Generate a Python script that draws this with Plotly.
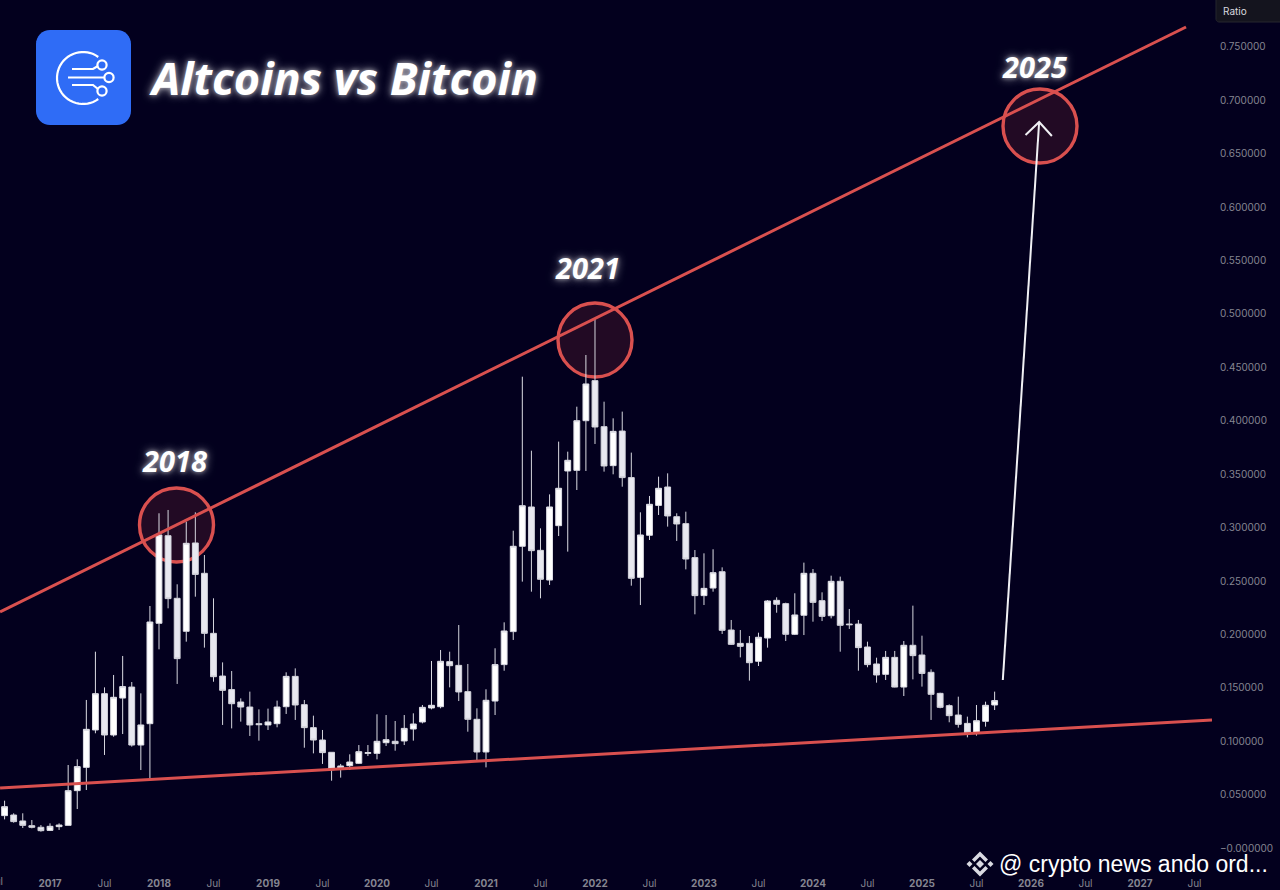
import numpy as np
import plotly.graph_objects as go

# monthly candles, month 0 = Jan 2017
months = list(range(-5, 105))
opens = [
    .0303, .0309, .0253, .0209, .0194,
    .0165, .0200, .0212, .0537, .0755, .1105, .1445, .1058, .1404, .1507, .0964, .1164,
    .2104, .2924, .2338, .2029, .2856, .2572, .2010, .1610, .1483, .1367, .1320, .1164,
    .1152, .1164, .1323, .1607, .1342, .1127, .1011, .0896, .0768, .0771, .0793, .0886,
    .0886, .0986, .0999, .1002, .1114, .1180, .1311, .1323, .1745, .1710, .1464, .1205,
    .0899, .1376, .1717, .2026, .2825, .3193, .2787, .2509, .3018, .3530, .3536, .4001,
    .4376, .3945, .3580, .3904, .3468, .2534, .2928, .3208, .3380, .3102, .3037, .2719,
    .2363, .2434, .2587, .2041, .1916, .1916, .1748, .1966, .2319, .2288, .2001, .2179,
    .2572, .2316, .2175, .2497, .2097, .2097, .1882, .1723, .1626, .1785, .1507, .1898,
    .1807, .1645, .1448, .1333, .1245, .1167, .1074, .1186, .1339,
]
highs = [
    .0443, .0325, .0325, .0262, .0215,
    .0231, .0231, .0777, .0830, .1386, .1838, .1504, .1620, .1798, .1554, .1448, .2266,
    .3134, .3165, .2469, .3056, .3143, .2743, .2338, .1738, .1657, .1401, .1464, .1298,
    .1305, .1380, .1645, .1682, .1386, .1239, .1105, .0896, .0787, .0877, .0964, .0964,
    .1252, .1245, .1189, .1245, .1261, .1339, .1751, .1854, .1838, .2088, .1723, .1308,
    .1486, .1870, .2113, .2971, .4413, .3720, .2993, .3311, .3805, .3711, .4132, .4616,
    .4959, .4179, .4023, .4086, .3702, .3143, .3296, .3477, .3508, .3134, .3149, .2790,
    .2759, .2797, .2628, .2135, .2041, .1985, .2016, .2322, .2347, .2297, .2385, .2672,
    .2612, .2394, .2550, .2541, .2238, .2135, .1932, .1782, .1845, .1845, .1938, .2269,
    .1988, .1673, .1454, .1345, .1417, .1230, .1339, .1370, .1464,
]
lows = [
    .0268, .0237, .0187, .0184, .0153,
    .0159, .0169, .0212, .0365, .0543, .1074, .0871, .1042, .1067, .0949, .0730, .0652,
    .1860, .2244, .1536, .1932, .2353, .1876, .1557, .1152, .1120, .1183, .1049, .1005,
    .1105, .1130, .1255, .1199, .0939, .0886, .0787, .0630, .0659, .0730, .0787, .0861,
    .0830, .0955, .0911, .0964, .1005, .1167, .1298, .1308, .1504, .1376, .1089, .0824,
    .0755, .1245, .1660, .1948, .2494, .2400, .2338, .2463, .2921, .2775, .3352, .3530,
    .3783, .3524, .3499, .3383, .2456, .2275, .2884, .3118, .3009, .2875, .2609, .2188,
    .2275, .2400, .2004, .1901, .1785, .1567, .1704, .1876, .2203, .1938, .1994, .1994,
    .2119, .2125, .2150, .1838, .2051, .1660, .1692, .1548, .1573, .1504, .1423, .1579,
    .1511, .1199, .1308, .1177, .1127, .1036, .1052, .1136, .1292,
]
closes = [
    .0387, .0247, .0212, .0194, .0162,
    .0203, .0215, .0537, .0762, .1111, .1445, .1058, .1411, .1511, .0964, .1152, .2116,
    .2931, .2335, .1773, .2853, .2562, .2010, .1604, .1476, .1351, .1320, .1152, .1155,
    .1180, .1320, .1607, .1339, .1127, .1011, .0893, .0733, .0737, .0805, .0902, .0893,
    .0999, .1014, .0977, .1120, .1161, .1317, .1336, .1748, .1707, .1461, .1205, .0899,
    .1383, .1717, .2032, .2825, .3205, .2784, .2516, .3193, .3368, .3630, .4001, .4345,
    .3942, .3577, .3901, .3468, .2525, .2931, .3218, .3368, .3109, .3034, .2706, .2363,
    .2431, .2578, .2038, .1907, .1888, .1735, .1973, .2313, .2282, .2001, .2182, .2572,
    .2300, .2169, .2497, .2085, .2091, .1876, .1717, .1620, .1785, .1507, .1898, .1801,
    .1635, .1439, .1317, .1239, .1158, .1080, .1192, .1336, .1380,
]

# trend lines and the arrow
upper_x = [-5.5, 125.07]
upper_y = [.2210, .7687]
lower_x = [-5.5, 127.93]
lower_y = [.0562, .1199]
arrow_x = [104.9, 108.9]
arrow_y = [.1573, .6798]
head_x = [107.4, 108.9, 110.3]
head_y = [.6676, .6798, .6667]

year_labels = ["2017", "2018", "2019", "2020", "2021", "2022", "2023", "2024", "2025", "2026", "2027"]
x_tickvals = list(range(0, 127, 6))
x_ticktext = []
for i, v in enumerate(x_tickvals):
    x_ticktext.append(f"<b>{year_labels[i // 2]}</b>" if i % 2 == 0 else "Jul")

y_tickvals = [round(0.05 * i, 2) for i in range(16)]
y_ticktext = ["−0.000000"] + [f"{v:.6f}" for v in y_tickvals[1:]]

BG = "#03001e"
RED = "#d9504f"
GRAY = "#858591"
FONT = "Open Sans"
PLOT_W = 1212
PLOT_H = 870


def px(x):
    return x / PLOT_W


def py(y):
    return 1 - y / PLOT_H


def poly(points, close=True):
    s = "M " + " L ".join(f"{px(x):.5f},{py(y):.5f}" for x, y in points)
    return s + (" Z" if close else "")


def circle(cx, cy, r, **kw):
    return dict(type="circle", xref="paper", yref="paper",
                x0=px(cx - r), x1=px(cx + r), y0=py(cy + r), y1=py(cy - r), **kw)


def rounded(x0, y0, x1, y1, r):
    pts = []
    for cx, cy, a0 in [(x1 - r, y0 + r, -90), (x1 - r, y1 - r, 0), (x0 + r, y1 - r, 90), (x0 + r, y0 + r, 180)]:
        for a in np.radians(np.linspace(a0, a0 + 90, 9)):
            pts.append((cx + r * np.cos(a), cy + r * np.sin(a)))
    return poly(pts)


fig = go.Figure()
fig.add_trace(go.Candlestick(
    x=months, open=opens, high=highs, low=lows, close=closes,
    whiskerwidth=0,
    increasing=dict(fillcolor="#ffffff", line=dict(color="#dcdce4", width=1)),
    decreasing=dict(fillcolor="#e8e8f0", line=dict(color="#d4d4dc", width=1)),
))
fig.add_trace(go.Scatter(x=upper_x, y=upper_y, mode="lines", line=dict(color=RED, width=3)))
fig.add_trace(go.Scatter(x=lower_x, y=lower_y, mode="lines", line=dict(color=RED, width=3)))
fig.add_trace(go.Scatter(x=arrow_x, y=arrow_y, mode="lines", line=dict(color="#f0f0f4", width=2)))
fig.add_trace(go.Scatter(x=head_x, y=head_y, mode="lines", line=dict(color="#f0f0f4", width=2)))

shapes = []
# highlighted tops
for cx, cy in [(176.5, 525), (595, 340), (1040, 126)]:
    shapes.append(circle(cx, cy, 37, layer="below", fillcolor="rgba(225,70,80,0.14)", line=dict(color=RED, width=3.4)))

# logo
shapes.append(dict(type="path", xref="paper", yref="paper", path=rounded(36, 30, 131, 125, 14),
                   fillcolor="#2f6cf6", line=dict(width=0)))
arc = [(83 + 26 * np.cos(a), 78 + 26 * np.sin(a)) for a in np.radians(np.linspace(-54, -306, 40))]
white = dict(color="#ffffff", width=2.2)
shapes.append(dict(type="path", xref="paper", yref="paper", path=poly(arc, False), line=white))
for pts in [
    [(72, 69), (93, 69), (98, 66)],
    [(68, 77.5), (104, 77.5)],
    [(72, 85), (93, 85), (98, 89)],
]:
    shapes.append(dict(type="path", xref="paper", yref="paper", path=poly(pts, False), line=white))
for cx, cy in [(102, 65), (109, 77.5), (102, 91)]:
    shapes.append(circle(cx, cy, 4.6, line=white))

# ratio box
shapes.append(dict(type="path", xref="paper", yref="paper", path=rounded(1216, -6, 1300, 22, 3),
                   fillcolor="#14141e", line=dict(color="#26262f", width=1)))

# watermark logo
WM = "#dadae2"
for pts in [
    [(980, 860), (984, 864), (980, 868), (976, 864)],
    [(969.5, 861), (972.5, 864), (969.5, 867), (966.5, 864)],
    [(990.5, 861), (993.5, 864), (990.5, 867), (987.5, 864)],
    [(980, 851.5), (988, 859.5), (985.5, 862), (980, 856.5), (974.5, 862), (972, 859.5)],
    [(980, 876.5), (988, 868.5), (985.5, 866), (980, 871.5), (974.5, 866), (972, 868.5)],
]:
    shapes.append(dict(type="path", xref="paper", yref="paper", path=poly(pts), fillcolor=WM, line=dict(width=0)))

GLOW = "0 0 10px rgba(255,255,255,0.65), 0 0 4px rgba(255,255,255,0.45)"
annotations = [
    dict(text="<b><i>Altcoins vs Bitcoin</i></b>", x=px(147), y=py(78), xanchor="left", size=45),
    dict(text="<b><i>2018</i></b>", x=px(174), y=py(460), xanchor="center", size=29),
    dict(text="<b><i>2021</i></b>", x=px(587), y=py(267), xanchor="center", size=29),
    dict(text="<b><i>2025</i></b>", x=px(1034), y=py(66), xanchor="center", size=29),
]
annotations = [
    dict(text=a["text"], x=a["x"], y=a["y"], xref="paper", yref="paper", xanchor=a["xanchor"], yanchor="middle",
         showarrow=False, font=dict(family=FONT, size=a["size"], color="#ffffff", shadow=GLOW))
    for a in annotations
]
annotations += [
    dict(text="Ratio", x=px(1221), y=py(11), xref="paper", yref="paper", xanchor="left", yanchor="middle",
         showarrow=False, font=dict(family="Inter", size=10, color="#d8d8de")),
    dict(text="Jul", x=px(-4.5), y=py(881), xref="paper", yref="paper", xanchor="center", yanchor="middle",
         showarrow=False, font=dict(family="Inter", size=10, color=GRAY)),
    dict(text="@ crypto news ando ord...", x=px(997), y=py(864), xref="paper", yref="paper",
         xanchor="left", yanchor="middle", showarrow=False,
         font=dict(family="Liberation Sans", size=23, color="#ffffff")),
]

fig.update_layout(
    width=1280, height=890,
    margin=dict(l=0, r=68, t=0, b=20),
    paper_bgcolor=BG, plot_bgcolor=BG,
    showlegend=False,
    boxgap=0.08,
    shapes=shapes,
    annotations=annotations,
    font=dict(family="Inter", size=10, color=GRAY),
)
fig.update_xaxes(
    range=[-5.505, 127.93], rangeslider_visible=False, showgrid=False, zeroline=False,
    tickmode="array", tickvals=x_tickvals, ticktext=x_ticktext,
    ticks="outside", ticklen=4, tickcolor=BG,
)
fig.update_yaxes(
    range=[-0.0206, 0.794], side="right", showgrid=False, zeroline=False,
    tickmode="array", tickvals=y_tickvals, ticktext=y_ticktext,
    ticks="outside", ticklen=5, tickcolor=BG,
)

fig.write_html("out.html", config=dict(displayModeBar=False), post_script="document.body.style.margin='0';")
